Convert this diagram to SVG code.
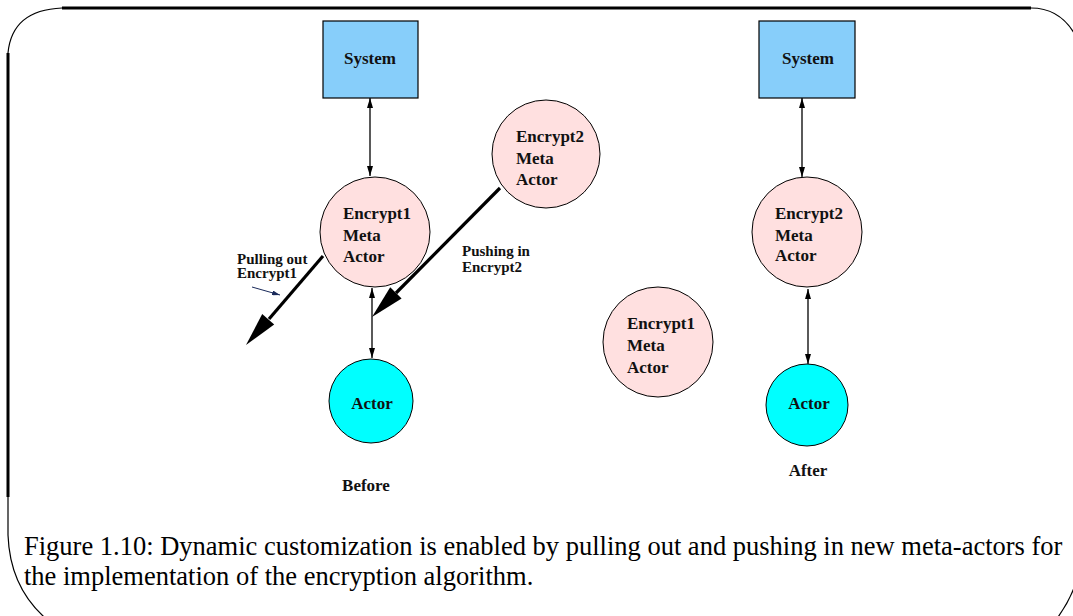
<svg xmlns="http://www.w3.org/2000/svg" width="1073" height="616" viewBox="0 0 1073 616">
<style>
.frame{fill:none;stroke:#000;stroke-width:1.2}
.thick{fill:none;stroke:#000;stroke-width:3}
.sys{fill:#87cefa;stroke:#000;stroke-width:1.2}
.meta{fill:#ffe0e0;stroke:#000;stroke-width:1}
.act{fill:#00ffff;stroke:#000;stroke-width:1}
.lbl{font-family:"Liberation Serif","Times New Roman",serif;font-weight:bold;font-size:17px;fill:#111}
.small{font-family:"Liberation Serif","Times New Roman",serif;font-weight:bold;font-size:15px;fill:#111}
.cap{font-family:"Liberation Serif","Times New Roman",serif;font-size:26.5px;fill:#000}
.conn{fill:none;stroke:#000;stroke-width:1.3}
.big{fill:none;stroke:#000;stroke-width:3.2}
</style>
<defs>
<marker id="ah" viewBox="0 0 10 6" refX="10" refY="3" markerWidth="10" markerHeight="6" markerUnits="userSpaceOnUse" orient="auto-start-reverse">
<path d="M0,0 L10,3 L0,6 z" fill="#000"/>
</marker>
<marker id="ahn" viewBox="0 0 8 5" refX="8" refY="2.5" markerWidth="8" markerHeight="5" markerUnits="userSpaceOnUse" orient="auto">
<path d="M0,0 L8,2.5 L0,5 z" fill="#1a2a5a"/>
</marker>
</defs>
<g id="frame">
<path class="frame" d="M8,53 Q12,10 62,8 L1031,8 Q1065,8 1080,45"/>
<path class="frame" d="M8,497 L8,535 Q10,590 50,622"/>
<path class="frame" d="M1078,575 Q1072,600 1052,625"/>
<line class="thick" x1="62" y1="8" x2="1031" y2="8"/>
<line class="thick" x1="8" y1="53" x2="8" y2="497"/>
</g>
<g id="connectors">
<line class="conn" x1="370" y1="98" x2="370" y2="176" marker-start="url(#ah)" marker-end="url(#ah)"/>
<line class="conn" x1="372" y1="288" x2="372" y2="358" marker-start="url(#ah)" marker-end="url(#ah)"/>
<line class="conn" x1="802" y1="98" x2="802" y2="177" marker-start="url(#ah)" marker-end="url(#ah)"/>
<line class="conn" x1="808" y1="289" x2="808" y2="364" marker-start="url(#ah)" marker-end="url(#ah)"/>
<g id="pull-arrow">
<line class="big" x1="323" y1="256" x2="269" y2="319"/>
<polygon points="246,345 274.2,324.5 262.2,314.1" fill="#000"/>
</g>
<g id="push-arrow">
<line class="big" x1="500" y1="188" x2="396" y2="293"/>
<polygon points="372,317 401.6,298.5 390.2,287.3" fill="#000"/>
</g>
<line x1="252" y1="287" x2="280" y2="295" stroke="#1a2a5a" stroke-width="1" marker-end="url(#ahn)"/>
</g>
<g id="system-before">
<rect class="sys" x="323" y="21" width="95" height="77"/>
<text class="lbl" x="370" y="64" text-anchor="middle">System</text>
</g>
<g id="encrypt1-before">
<circle class="meta" cx="375" cy="232" r="55"/>
<text class="lbl" x="343" y="219">Encrypt1</text>
<text class="lbl" x="343" y="241">Meta</text>
<text class="lbl" x="343" y="262">Actor</text>
</g>
<g id="encrypt2-new">
<circle class="meta" cx="546" cy="154" r="54"/>
<text class="lbl" x="516" y="142">Encrypt2</text>
<text class="lbl" x="516" y="164">Meta</text>
<text class="lbl" x="516" y="185">Actor</text>
</g>
<g id="actor-before">
<circle class="act" cx="371" cy="401" r="42"/>
<text class="lbl" x="372" y="409" text-anchor="middle">Actor</text>
</g>
<g id="label-pulling">
<text class="small" x="237" y="264">Pulling out</text>
<text class="small" x="237" y="278">Encrypt1</text>
</g>
<g id="label-pushing">
<text class="small" x="462" y="256">Pushing in</text>
<text class="small" x="462" y="272">Encrypt2</text>
</g>
<g id="label-before">
<text class="lbl" x="366" y="491" text-anchor="middle">Before</text>
</g>
<g id="encrypt1-removed">
<circle class="meta" cx="658" cy="342" r="55"/>
<text class="lbl" x="627" y="329">Encrypt1</text>
<text class="lbl" x="627" y="351">Meta</text>
<text class="lbl" x="627" y="373">Actor</text>
</g>
<g id="system-after">
<rect class="sys" x="759" y="21" width="96" height="77"/>
<text class="lbl" x="808" y="64" text-anchor="middle">System</text>
</g>
<g id="encrypt2-after">
<circle class="meta" cx="807" cy="232" r="55"/>
<text class="lbl" x="775" y="219">Encrypt2</text>
<text class="lbl" x="775" y="241">Meta</text>
<text class="lbl" x="775" y="261">Actor</text>
</g>
<g id="actor-after">
<circle class="act" cx="807" cy="405" r="41"/>
<text class="lbl" x="809" y="409" text-anchor="middle">Actor</text>
</g>
<g id="label-after">
<text class="lbl" x="808" y="476" text-anchor="middle">After</text>
</g>
<g id="caption">
<text class="cap" x="24" y="555">Figure 1.10: Dynamic customization is enabled by pulling out and pushing in new meta-actors for</text>
<text class="cap" x="24" y="585">the implementation of the encryption algorithm.</text>
</g>
</svg>
